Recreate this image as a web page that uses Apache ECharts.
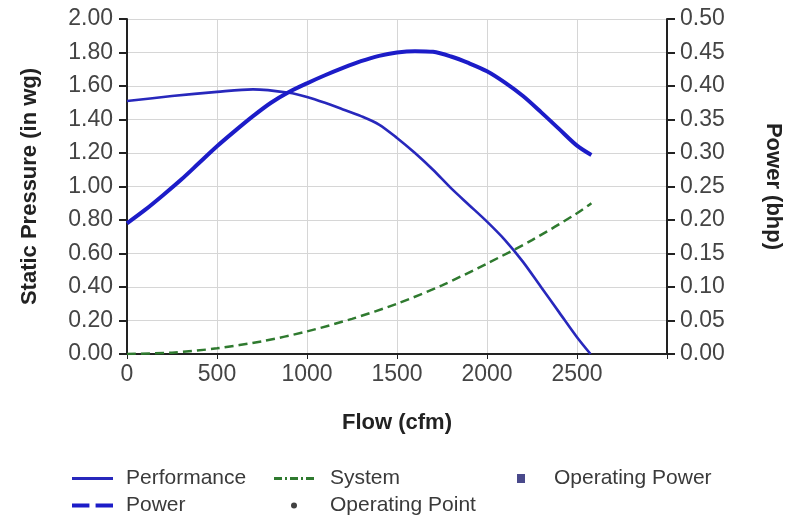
<!DOCTYPE html>
<html>
<head>
<meta charset="utf-8">
<script src="https://cdn.jsdelivr.net/npm/echarts@6/dist/echarts.min.js"></script>
<style>
html,body{margin:0;padding:0;background:#fff;}
#chart{width:792px;height:516px;}
</style>
</head>
<body>
<div id="chart"></div>
<script>
// Data
var perfFlow = [0, 250, 500, 700, 900, 1000, 1100, 1200, 1300, 1400, 1500, 1600, 1700, 1800, 1900, 2000, 2100, 2200, 2300, 2400, 2500, 2575];
var perfPressure = [1.51, 1.54, 1.565, 1.58, 1.56, 1.535, 1.50, 1.46, 1.42, 1.37, 1.29, 1.20, 1.10, 0.99, 0.89, 0.79, 0.68, 0.55, 0.40, 0.25, 0.10, 0.00];

var powerFlow = [0, 100, 200, 300, 400, 500, 600, 700, 800, 900, 1000, 1100, 1200, 1300, 1400, 1500, 1600, 1700, 1800, 1900, 2000, 2100, 2200, 2300, 2400, 2500, 2580];
var powerBhp = [0.195, 0.215, 0.237, 0.26, 0.285, 0.31, 0.333, 0.355, 0.375, 0.391, 0.404, 0.416, 0.427, 0.437, 0.445, 0.450, 0.452, 0.451, 0.444, 0.434, 0.422, 0.405, 0.385, 0.361, 0.336, 0.311, 0.297];

var systemFlow = [0, 250, 500, 750, 1000, 1250, 1500, 1750, 2000, 2250, 2500, 2580];
var systemPressure = [0, 0.008, 0.034, 0.076, 0.135, 0.21, 0.30, 0.41, 0.54, 0.68, 0.84, 0.90];

var operatingPoint = [];
var operatingPower = [];

var seriesNames = ['Performance', 'Power', 'System', 'Operating Point', 'Operating Power'];

function pairs(xs, ys) { return xs.map(function (x, i) { return [x, ys[i]]; }); }

var font = 'Liberation Sans, Arial, sans-serif';
var chart = echarts.init(document.getElementById('chart'), null, {renderer: 'canvas'});

function leg(name, left, top, w, h, padLeft, icon) {
  return {
    data: [{name: name, icon: icon}], left: left, top: top, orient: 'horizontal',
    padding: 0, itemWidth: w, itemHeight: h, itemGap: 10,
    symbolKeepAspect: false,
    textStyle: {fontFamily: font, fontSize: 21, color: '#3a3a3a', padding: [0, 0, 0, padLeft]},
    selectedMode: false
  };
}

var iconSolid = 'path://M0,0H40V3H0Z';
var iconDashed = 'path://M0,0H17V4H0Z M23,0H40V4H23Z';
var iconDashDot = 'path://M0,0H8V3H0Z M11,0H13V3H11Z M16,0H24V3H16Z M27,0H29V3H27Z M32,0H40V3H32Z';

var ticksFont = {fontFamily: font, fontSize: 23, color: '#444'};

chart.setOption({
  animation: false,
  backgroundColor: '#fff',
  grid: {left: 127, right: 118, top: 19, bottom: 162, containLabel: false},
  legend: [
    leg(seriesNames[0], 72, 468, 41, 3, 8, iconSolid),
    leg(seriesNames[2], 274, 468, 40, 3, 11, iconDashDot),
    leg(seriesNames[4], 517, 468, 8, 9, 24, 'rect'),
    leg(seriesNames[1], 72, 495, 41, 4, 8, iconDashed),
    leg(seriesNames[3], 291, 495, 6, 6, 28, 'circle')
  ],
  xAxis: {
    type: 'value', min: 0, max: 3000, interval: 500,
    name: 'Flow (cfm)', nameLocation: 'middle', nameGap: 58,
    nameTextStyle: {fontFamily: font, fontSize: 22, fontWeight: 'bold', color: '#222'},
    axisLine: {show: true, onZero: false, lineStyle: {color: '#222', width: 2}},
    axisTick: {show: true, length: 5, lineStyle: {color: '#222'}},
    axisLabel: Object.assign({margin: 9, formatter: function (v) { return v >= 3000 ? '' : String(v); }}, ticksFont),
    splitLine: {show: true, lineStyle: {color: '#d6d6d6', width: 1}}
  },
  yAxis: [
    {
      type: 'value', min: 0, max: 2, interval: 0.2, position: 'left',
      name: 'Static Pressure (in wg)', nameLocation: 'middle', nameGap: 86, nameRotate: 90,
      nameTextStyle: {fontFamily: font, fontSize: 22, fontWeight: 'bold', color: '#222'},
      axisLine: {show: true, lineStyle: {color: '#222', width: 2}},
      axisTick: {show: true, length: 8, lineStyle: {color: '#222', width: 2}},
      axisLabel: Object.assign({margin: 14, formatter: function (v) { return v.toFixed(2); }}, ticksFont),
      splitLine: {show: true, lineStyle: {color: '#d6d6d6', width: 1}}
    },
    {
      type: 'value', min: 0, max: 0.5, interval: 0.05, position: 'right',
      name: 'Power (bhp)', nameLocation: 'middle', nameGap: 95, nameRotate: -90,
      nameTextStyle: {fontFamily: font, fontSize: 22, fontWeight: 'bold', color: '#222'},
      axisLine: {show: true, lineStyle: {color: '#222', width: 2}},
      axisTick: {show: true, length: 8, lineStyle: {color: '#222', width: 2}},
      axisLabel: Object.assign({margin: 13, formatter: function (v) { return v.toFixed(2); }}, ticksFont),
      splitLine: {show: false}
    }
  ],
  series: [
    {
      name: seriesNames[0], type: 'line', yAxisIndex: 0, smooth: 0.3, symbol: 'none',
      data: pairs(perfFlow, perfPressure),
      lineStyle: {color: '#2828bc', width: 2.6}, itemStyle: {color: '#2828bc'}
    },
    {
      name: seriesNames[1], type: 'line', yAxisIndex: 1, smooth: 0.3, symbol: 'none',
      data: pairs(powerFlow, powerBhp),
      lineStyle: {color: '#1c1cc8', width: 4}, itemStyle: {color: '#1c1cc8'}
    },
    {
      name: seriesNames[2], type: 'line', yAxisIndex: 0, smooth: 0.3, symbol: 'none',
      data: pairs(systemFlow, systemPressure),
      lineStyle: {color: '#2f7a2f', width: 2.5, type: [9, 5]}, itemStyle: {color: '#2f7a2f'}
    },
    {
      name: seriesNames[3], type: 'scatter', yAxisIndex: 0, symbol: 'circle', symbolSize: 6,
      data: operatingPoint, itemStyle: {color: '#111'}
    },
    {
      name: seriesNames[4], type: 'scatter', yAxisIndex: 1, symbol: 'rect', symbolSize: [8, 9],
      data: operatingPower, itemStyle: {color: '#1c1c6e'}
    }
  ]
});
</script>
</body>
</html>
